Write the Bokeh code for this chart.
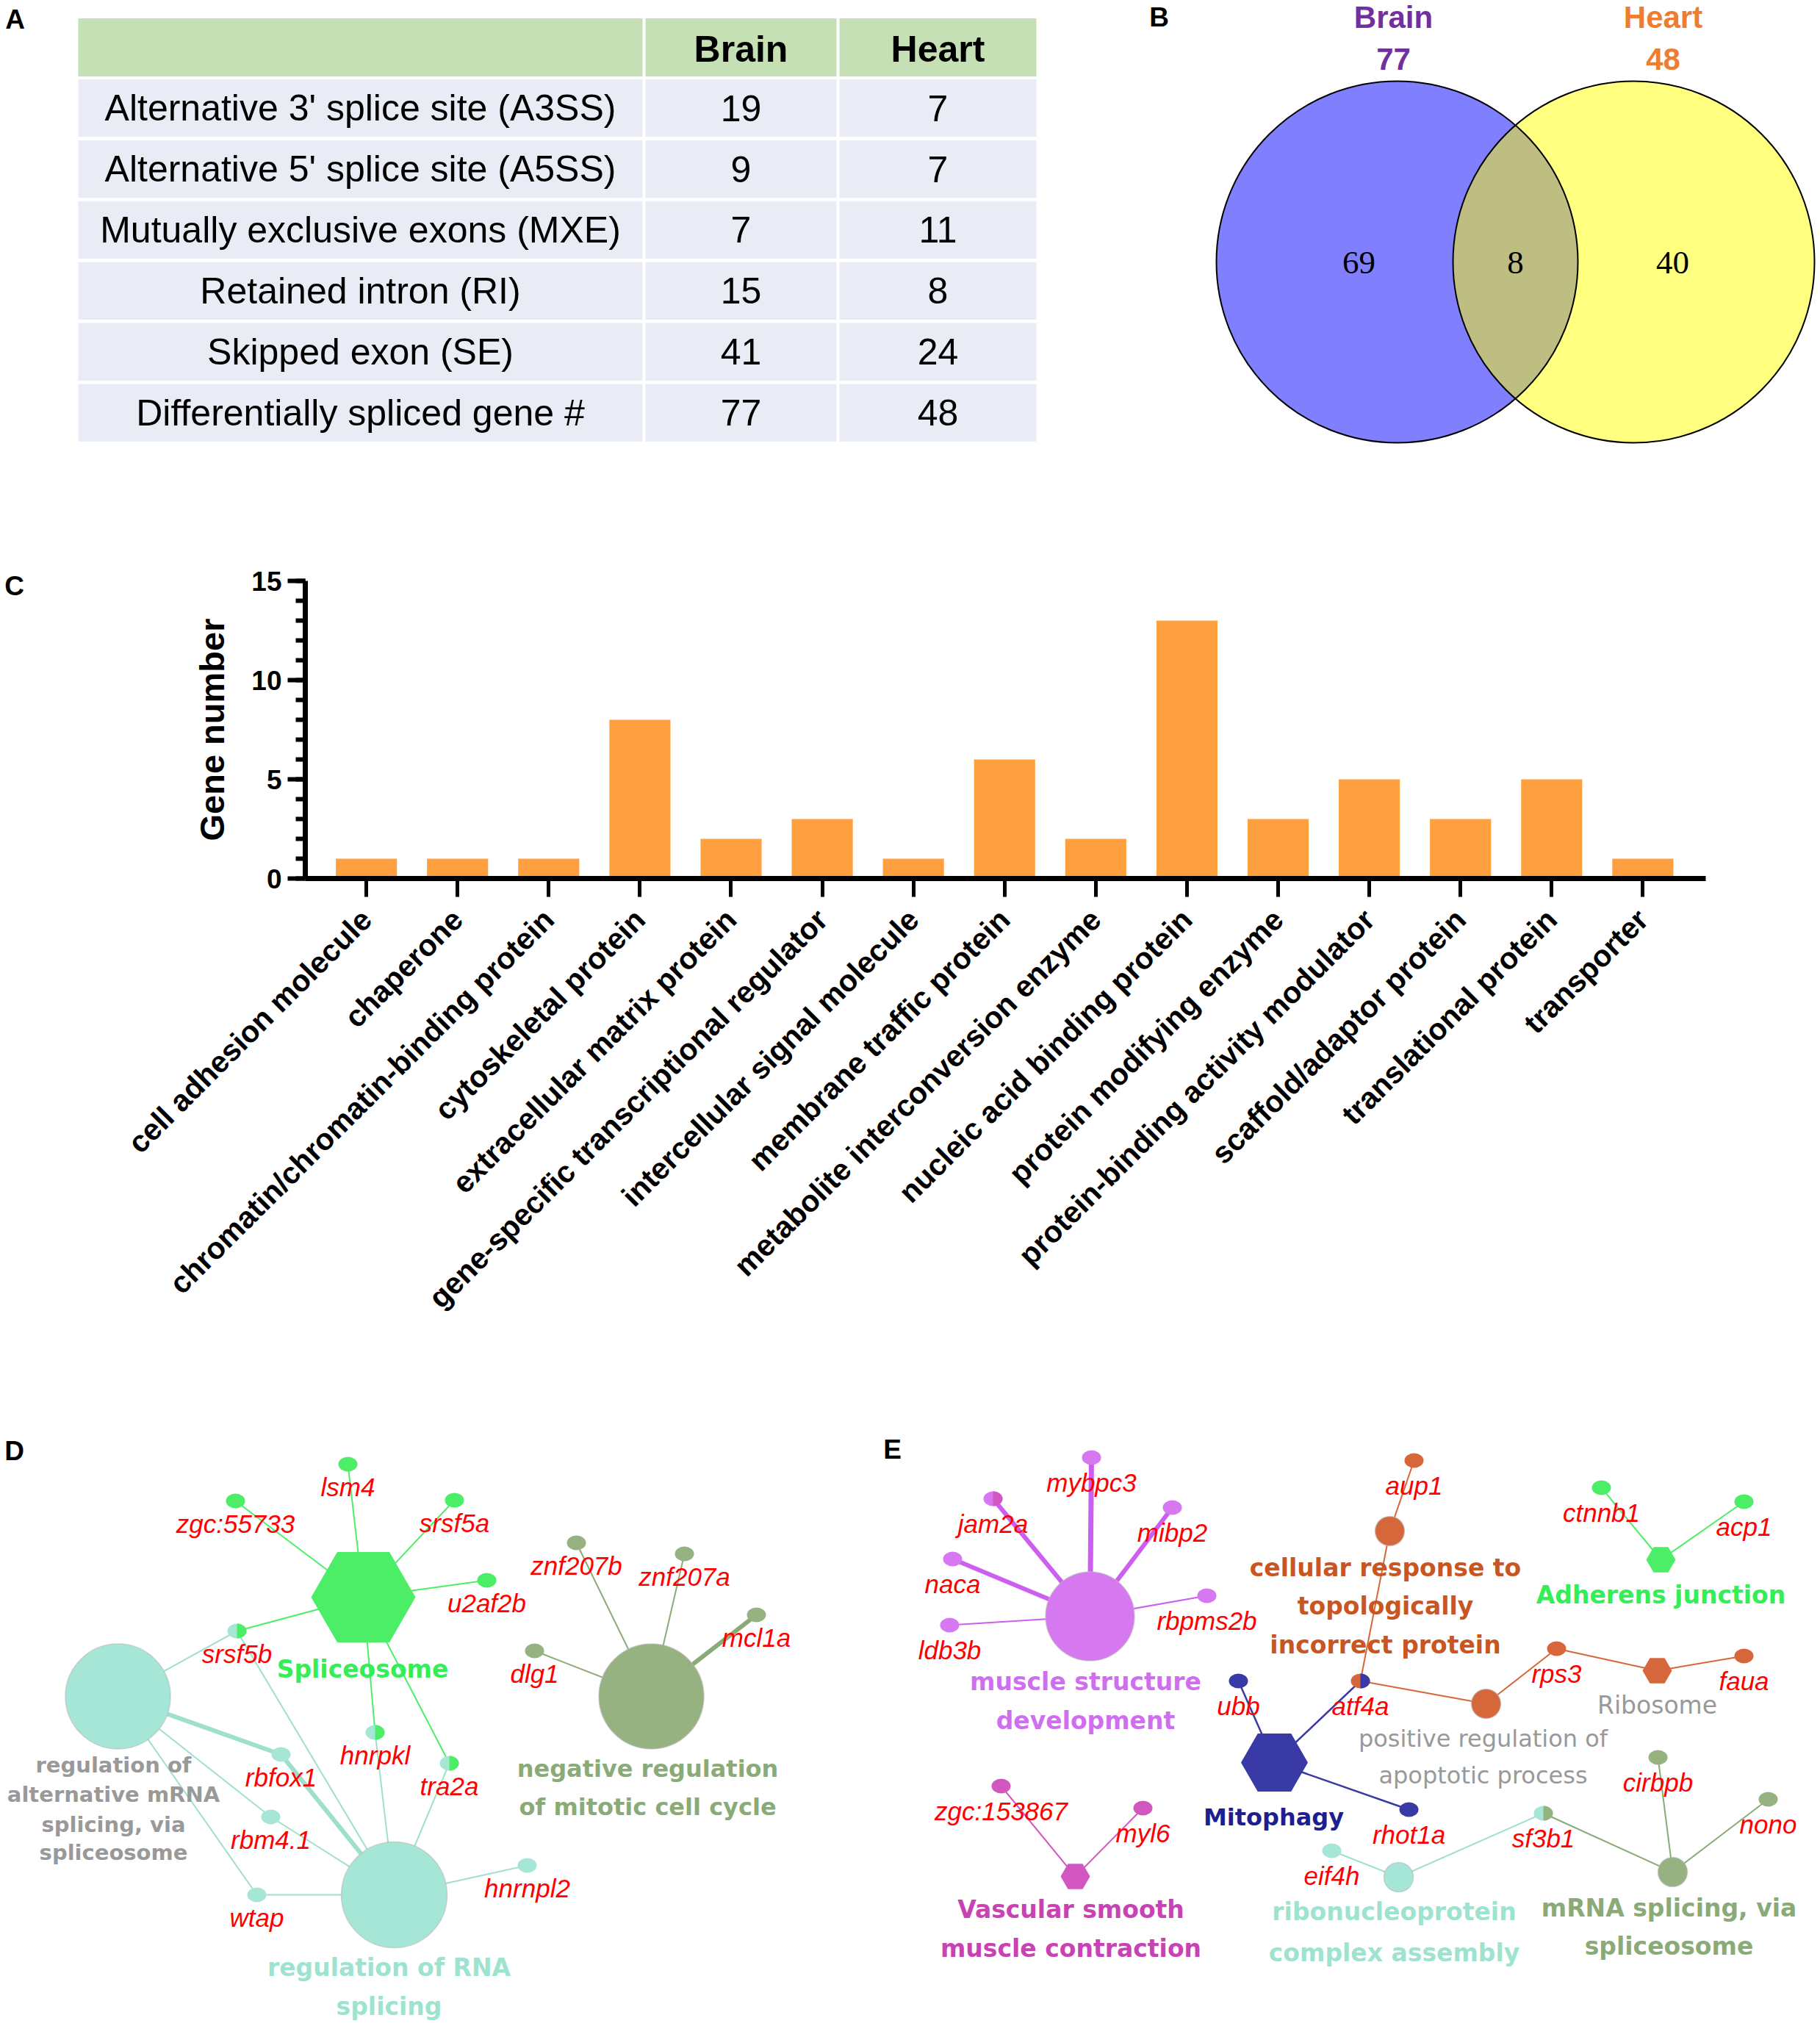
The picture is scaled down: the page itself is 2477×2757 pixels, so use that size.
import math
import numpy as np
from bokeh.plotting import figure
from bokeh.models import Range1d, FixedTicker
from bokeh.layouts import column, row
from bokeh.embed import file_html
from bokeh.resources import INLINE
from bokeh.core.properties import value

SANS = "Liberation Sans"
SERIF = "Liberation Serif"
DV = "DejaVu Sans"

# ------------------------------------------------------------------ data
table_header = ["", "Brain", "Heart"]
splice_types = ["Alternative 3' splice site (A3SS)", "Alternative 5' splice site (A5SS)",
                "Mutually exclusive exons (MXE)", "Retained intron (RI)",
                "Skipped exon (SE)", "Differentially spliced gene #"]
brain_counts = [19, 9, 7, 15, 41, 77]
heart_counts = [7, 7, 11, 8, 24, 48]

venn_names = ["Brain", "Heart"]
venn_totals = [77, 48]
venn_regions = [69, 8, 40]

categories = ["cell adhesion molecule", "chaperone", "chromatin/chromatin-binding protein",
              "cytoskeletal protein", "extracellular matrix protein",
              "gene-specific transcriptional regulator", "intercellular signal molecule",
              "membrane traffic protein", "metabolite interconversion enzyme",
              "nucleic acid binding protein", "protein modifying enzyme",
              "protein-binding activity modulator", "scaffold/adaptor protein",
              "translational protein", "transporter"]
gene_numbers = [1, 1, 1, 8, 2, 3, 1, 6, 2, 13, 3, 5, 3, 5, 1]
y_ticks = [0, 5, 10, 15]

# ------------------------------------------------------------------ styles
GREEN, GREEN_T = "#4cee68", "#33ee55"
TEAL, TEAL_T = "#a6e6d6", "#9de3cf"
OLIVE, OLIVE_T = "#95b280", "#8aab78"
VIOLET, VIOLET_T, VIOLET_E = "#d679f0", "#cf6ff0", "#cc5ef0"
MAGENTA, MAGENTA_T = "#d156bf", "#c942b3"
NAVY, NAVY_T = "#3a3aa6", "#1e1e8e"
ORANGE, ORANGE_T = "#d6673b", "#c95622"
GRAY_T = "#999999"
RED = "#ff0000"

# network layouts (positions in panel pixel space)
D_terms = {
    "Spliceosome": ("hex", 494, 2173, 142, GREEN),
    "regAlt": ("circle", 160, 2308, 143, TEAL),
    "regRNA": ("circle", 536, 2578, 144, TEAL),
    "negMit": ("circle", 886, 2308, 143, OLIVE),
}
D_term_labels = [
    (["Spliceosome"], 493, [2271], GREEN_T, "bold", 33),
    (["regulation of", "alternative mRNA", "splicing, via", "spliceosome"], 154,
     [2401, 2441, 2482, 2520], GRAY_T, "bold", 29),
    (["regulation of RNA", "splicing"], 529, [2677, 2730], TEAL_T, "bold", 33),
    (["negative regulation", "of mitotic cell cycle"], 881, [2406, 2458], OLIVE_T, "bold", 32),
]
D_genes = [
    ("zgc:55733", 320, 2042, GREEN, None), ("lsm4", 473, 1992, GREEN, None),
    ("srsf5a", 618, 2041, GREEN, None), ("u2af2b", 662, 2150, GREEN, None),
    ("srsf5b", 322, 2219, TEAL, GREEN), ("hnrpkl", 510, 2357, TEAL, GREEN),
    ("tra2a", 611, 2399, TEAL, GREEN), ("rbfox1", 382, 2387, TEAL, None),
    ("rbm4.1", 368, 2472, TEAL, None), ("wtap", 349, 2578, TEAL, None),
    ("hnrnpl2", 717, 2538, TEAL, None), ("dlg1", 727, 2246, OLIVE, None),
    ("znf207b", 784, 2099, OLIVE, None), ("znf207a", 931, 2114, OLIVE, None),
    ("mcl1a", 1029, 2197, OLIVE, None),
]
D_edges = [
    ("Spliceosome", "zgc:55733", 2), ("Spliceosome", "lsm4", 2), ("Spliceosome", "srsf5a", 2),
    ("Spliceosome", "u2af2b", 2), ("Spliceosome", "srsf5b", 2), ("Spliceosome", "hnrpkl", 2),
    ("Spliceosome", "tra2a", 2),
    ("regAlt", "srsf5b", 2), ("regAlt", "rbfox1", 6), ("regAlt", "rbm4.1", 2), ("regAlt", "wtap", 2),
    ("regRNA", "srsf5b", 2), ("regRNA", "rbfox1", 6), ("regRNA", "rbm4.1", 2), ("regRNA", "wtap", 2),
    ("regRNA", "hnrpkl", 2), ("regRNA", "tra2a", 2), ("regRNA", "hnrnpl2", 2),
    ("negMit", "dlg1", 2), ("negMit", "znf207b", 2), ("negMit", "znf207a", 2), ("negMit", "mcl1a", 6),
]
D_edge_color = {"Spliceosome": GREEN, "regAlt": "#9fe0cc", "regRNA": "#9fe0cc", "negMit": OLIVE_T}

E_terms = {
    "muscle": ("circle", 1483, 2199, 121, VIOLET),
    "vascular": ("hex", 1463, 2553, 40, MAGENTA),
    "mitophagy": ("hex", 1734, 2398, 91, NAVY),
    "cellresp": ("circle", 1891, 2083, 40, ORANGE),
    "apopt": ("circle", 2022, 2318, 40, ORANGE),
    "ribosome": ("hex", 2255, 2273, 40, ORANGE),
    "adherens": ("hex", 2260, 2122, 40, GREEN),
    "ribonuc": ("circle", 1903, 2554, 40, TEAL),
    "mrnasp": ("circle", 2276, 2547, 40, OLIVE),
}
E_term_labels = [
    (["muscle structure", "development"], 1477, [2288, 2341], VIOLET_T, "bold", 33),
    (["Vascular smooth", "muscle contraction"], 1457, [2598, 2651], MAGENTA_T, "bold", 33),
    (["Mitophagy"], 1733, [2472], NAVY_T, "bold", 32),
    (["cellular response to", "topologically", "incorrect protein"], 1885, [2133, 2185, 2238],
     ORANGE_T, "bold", 33),
    (["positive regulation of", "apoptotic process"], 2018, [2365, 2415], GRAY_T, "normal", 32),
    (["Ribosome"], 2255, [2320], GRAY_T, "normal", 33),
    (["Adherens junction"], 2260, [2170], GREEN_T, "bold", 33),
    (["ribonucleoprotein", "complex assembly"], 1897, [2601, 2657], TEAL_T, "bold", 33),
    (["mRNA splicing, via", "spliceosome"], 2271, [2596, 2648], OLIVE_T, "bold", 33),
]
E_genes = [
    ("mybpc3", 1485, 1983, VIOLET, None), ("jam2a", 1351, 2039, VIOLET, MAGENTA),
    ("mibp2", 1595, 2051, VIOLET, None), ("naca", 1296, 2121, VIOLET, None),
    ("ldb3b", 1292, 2211, VIOLET, None), ("rbpms2b", 1642, 2171, VIOLET, None),
    ("zgc:153867", 1362, 2430, MAGENTA, None), ("myl6", 1555, 2460, MAGENTA, None),
    ("ubb", 1685, 2287, NAVY, None), ("atf4a", 1851, 2287, ORANGE, NAVY),
    ("rhot1a", 1917, 2462, NAVY, None), ("aup1", 1924, 1987, ORANGE, None),
    ("rps3", 2118, 2243, ORANGE, None), ("faua", 2373, 2253, ORANGE, None),
    ("ctnnb1", 2179, 2024, GREEN, None), ("acp1", 2373, 2043, GREEN, None),
    ("eif4h", 1812, 2518, TEAL, None), ("sf3b1", 2100, 2467, TEAL, OLIVE),
    ("cirbpb", 2256, 2391, OLIVE, None), ("nono", 2406, 2448, OLIVE, None),
]
E_edges = [
    ("muscle", "mybpc3", 7), ("muscle", "jam2a", 6), ("muscle", "mibp2", 6), ("muscle", "naca", 6),
    ("muscle", "ldb3b", 2), ("muscle", "rbpms2b", 2),
    ("vascular", "zgc:153867", 2), ("vascular", "myl6", 2),
    ("mitophagy", "ubb", 2.5), ("mitophagy", "atf4a", 2.5), ("mitophagy", "rhot1a", 2.5),
    ("cellresp", "aup1", 2), ("cellresp", "atf4a", 2),
    ("apopt", "atf4a", 2), ("apopt", "rps3", 2),
    ("ribosome", "rps3", 2), ("ribosome", "faua", 2),
    ("adherens", "ctnnb1", 2), ("adherens", "acp1", 2),
    ("ribonuc", "eif4h", 2), ("ribonuc", "sf3b1", 2),
    ("mrnasp", "sf3b1", 2), ("mrnasp", "cirbpb", 2), ("mrnasp", "nono", 2),
]
E_edge_color = {"muscle": VIOLET_E, "vascular": MAGENTA, "mitophagy": NAVY, "cellresp": ORANGE,
                "apopt": ORANGE, "ribosome": ORANGE, "adherens": GREEN, "ribonuc": "#9fe0cc",
                "mrnasp": OLIVE_T}

# page geometry (image pixels)
W_TOTAL, H_TOTAL = 2475, 2752
ROW1_BOT, ROW2_BOT = 720, 1930
SPLIT_AB, SPLIT_DE, C_LEFT = 1530, 1180, 90
C_LETTER_BOT = 870
C_FRAME_L, C_FRAME_R, C_FRAME_T, C_FRAME_B = 415, 2321, 790, 1195


# ------------------------------------------------------------------ helpers
def blank_fig(x0, x1, y0, y1):
    p = figure(width=x1 - x0, height=y1 - y0, x_range=Range1d(x0, x1), y_range=Range1d(y1, y0),
               output_backend="svg", toolbar_location=None, min_border=0,
               x_axis_location=None, y_axis_location=None)
    for g in p.grid:
        g.visible = False
    p.outline_line_color = None
    p.background_fill_color = "white"
    p.border_fill_color = "white"
    return p


def txt(p, xs, ys, texts, size, color, style="normal", font=SANS, align="center"):
    p.text(x=xs, y=ys, text=texts, text_font=value(font), text_font_size=value(f"{size}px"),
           text_font_style=value(style), text_color=value(color), text_align=value(align),
           text_baseline=value("middle"))


def panel_letter(p, x, y, letter):
    txt(p, [x], [y], [letter], 37, "black", "bold", SANS)


# ------------------------------------------------------------------ panel A (table)
pA = blank_fig(0, SPLIT_AB, 0, ROW1_BOT)
panel_letter(pA, 20, 26, "A")
col_left = [106, 878, 1142]
col_right = [874, 1138, 1410]
col_mid = [(l + r) / 2 for l, r in zip(col_left, col_right)]
head_top, head_bot = 24.5, 103.6
row_top0, row_pitch, row_h = 107.5, 82.9, 78.3
pA.quad(left=col_left, right=col_right, top=[head_top] * 3, bottom=[head_bot] * 3,
        fill_color="#c5e0b4", line_color=None)
n_rows = len(splice_types)
tops = [row_top0 + i * row_pitch for i in range(n_rows)]
bots = [t + row_h for t in tops]
for c in range(3):
    pA.quad(left=[col_left[c]] * n_rows, right=[col_right[c]] * n_rows, top=tops, bottom=bots,
            fill_color="#e9ebf5", line_color=None)
mids = [(t + b) / 2 for t, b in zip(tops, bots)]
txt(pA, col_mid[1:], [(head_top + head_bot) / 2 + 2] * 2, table_header[1:], 50, "black", "bold")
txt(pA, [col_mid[0]] * n_rows, mids, splice_types, 50, "black")
txt(pA, [col_mid[1]] * n_rows, mids, [str(v) for v in brain_counts], 50, "black")
txt(pA, [col_mid[2]] * n_rows, mids, [str(v) for v in heart_counts], 50, "black")

# ------------------------------------------------------------------ panel B (Venn)
pB = blank_fig(SPLIT_AB, W_TOTAL, 0, ROW1_BOT)
panel_letter(pB, 1577, 23, "B")
cx = [1901, 2223]
cy = 356
r = 246
pB.ellipse(x=[cx[0]], y=[cy], width=2 * r, height=2 * r, fill_color="#8080ff", line_color=None)
pB.ellipse(x=[cx[1]], y=[cy], width=2 * r, height=2 * r, fill_color="#ffff80", line_color=None)
a = (cx[1] - cx[0]) / 2
hh = math.sqrt(r * r - a * a)
th = math.atan2(hh, a)
t1 = np.linspace(-th, th, 80)
t2 = np.linspace(math.pi - th, math.pi + th, 80)
lens_x = np.concatenate([cx[0] + r * np.cos(t1), cx[1] + r * np.cos(t2)])
lens_y = np.concatenate([cy + r * np.sin(t1), cy + r * np.sin(t2)])
pB.patch(lens_x, lens_y, fill_color="#bebe82", line_color=None)
pB.ellipse(x=cx, y=[cy, cy], width=2 * r, height=2 * r, fill_color=None, line_color="black",
           line_width=2)
name_x = [1896, 2263]
name_col = ["#7030a0", "#ed7d31"]
for i in range(2):
    txt(pB, [name_x[i]], [23], [venn_names[i]], 42, name_col[i], "bold")
    txt(pB, [name_x[i]], [80], [str(venn_totals[i])], 42, name_col[i], "bold")
txt(pB, [1849, 2062, 2276], [357] * 3, [str(v) for v in venn_regions], 45, "black", "normal", SERIF)

# ------------------------------------------------------------------ panel C (bars)
pCL = blank_fig(0, C_LEFT, ROW1_BOT, C_LETTER_BOT)
panel_letter(pCL, 19, 797, "C")
pCL2 = blank_fig(0, C_LEFT, C_LETTER_BOT, ROW2_BOT)

xpos = list(range(1, len(categories) + 1))
pC = figure(width=W_TOTAL - C_LEFT, height=ROW2_BOT - ROW1_BOT,
            x_range=Range1d(0.33, 15.69), y_range=Range1d(0, 15),
            output_backend="svg", toolbar_location=None,
            min_border_left=C_FRAME_L - C_LEFT, min_border_right=W_TOTAL - C_FRAME_R,
            min_border_top=C_FRAME_T - ROW1_BOT, min_border_bottom=ROW2_BOT - C_FRAME_B)
pC.grid.visible = False
pC.outline_line_color = None
pC.vbar(x=xpos, top=gene_numbers, width=0.67, fill_color="#ffa040", line_color=None)
for ax in (pC.xaxis[0], pC.yaxis[0]):
    ax.axis_line_width = 7
    ax.axis_line_color = "black"
    ax.major_tick_line_width = 6
    ax.major_tick_line_color = "black"
    ax.major_tick_in = 0
    ax.major_label_text_font = SANS
    ax.major_label_text_font_style = "bold"
    ax.major_label_text_color = "black"
pC.yaxis.ticker = FixedTicker(ticks=y_ticks, minor_ticks=list(range(0, 16)))
pC.yaxis.major_tick_out = 24
pC.yaxis.minor_tick_out = 13
pC.yaxis.minor_tick_in = 0
pC.yaxis.minor_tick_line_width = 6
pC.yaxis.minor_tick_line_color = "black"
pC.yaxis.major_label_text_font_size = "37px"
pC.yaxis.major_label_standoff = 8
pC.yaxis.axis_label = "Gene number"
pC.yaxis.axis_label_text_font = SANS
pC.yaxis.axis_label_text_font_size = "47px"
pC.yaxis.axis_label_text_font_style = "bold"
pC.yaxis.axis_label_text_color = "black"
pC.yaxis.axis_label_standoff = 24
pC.xaxis.ticker = FixedTicker(ticks=xpos)
pC.xaxis.major_label_overrides = {i: c for i, c in zip(xpos, categories)}
pC.xaxis.major_tick_out = 25
pC.xaxis.major_tick_line_width = 5
pC.xaxis.minor_tick_line_color = None
pC.xaxis.major_label_text_font_size = "41px"
pC.xaxis.major_label_orientation = math.pi / 4
pC.xaxis.major_label_standoff = 24


# ------------------------------------------------------------------ panels D, E (networks)
def draw_network(p, terms, term_labels, genes, edges, edge_color, label_dy):
    gpos = {g[0]: (g[1], g[2]) for g in genes}
    x0 = [terms[t][1] for t, g, w in edges]
    y0 = [terms[t][2] for t, g, w in edges]
    x1 = [gpos[g][0] for t, g, w in edges]
    y1 = [gpos[g][1] for t, g, w in edges]
    p.segment(x0=x0, y0=y0, x1=x1, y1=y1, line_width=[w for t, g, w in edges],
              line_color=[edge_color[t] for t, g, w in edges])
    circ = [v for v in terms.values() if v[0] == "circle"]
    hexes = [v for v in terms.values() if v[0] == "hex"]
    if circ:
        p.ellipse(x=[v[1] for v in circ], y=[v[2] for v in circ], width=[v[3] for v in circ],
                  height=[v[3] for v in circ], fill_color=[v[4] for v in circ],
                  line_color="#b8b8b8", line_alpha=0.6, line_width=1.5)
    if hexes:
        p.scatter(x=[v[1] for v in hexes], y=[v[2] for v in hexes], size=[v[3] for v in hexes],
                  marker="hex", fill_color=[v[4] for v in hexes], line_color=None)
    p.ellipse(x=[g[1] for g in genes], y=[g[2] for g in genes], width=26, height=20,
              fill_color=[g[3] for g in genes], line_color=None)
    splits = [g for g in genes if g[4] is not None]
    t = np.linspace(-math.pi / 2, math.pi / 2, 24)
    if splits:
        p.patches(xs=[list(g[1] + 13 * np.cos(t)) for g in splits],
                  ys=[list(g[2] + 10 * np.sin(t)) for g in splits],
                  fill_color=[g[4] for g in splits], line_color=None)
    for lines, lx, lys, col, style, size in term_labels:
        txt(p, [lx] * len(lines), lys, lines, size, col, style, DV)
    txt(p, [g[1] for g in genes], [g[2] + label_dy for g in genes], [g[0] for g in genes], 35,
        RED, "italic", SANS)


pD = blank_fig(0, SPLIT_DE, ROW2_BOT, H_TOTAL)
panel_letter(pD, 19, 1974, "D")
draw_network(pD, D_terms, D_term_labels, D_genes, D_edges, D_edge_color, 31)

pE = blank_fig(SPLIT_DE, W_TOTAL, ROW2_BOT, H_TOTAL)
panel_letter(pE, 1214, 1972, "E")
draw_network(pE, E_terms, E_term_labels, E_genes, E_edges, E_edge_color, 34)

layout = column(row(pA, pB, spacing=0),
                row(column(pCL, pCL2, spacing=0), pC, spacing=0),
                row(pD, pE, spacing=0), spacing=0)
open("out.html", "w").write(file_html(layout, INLINE))
